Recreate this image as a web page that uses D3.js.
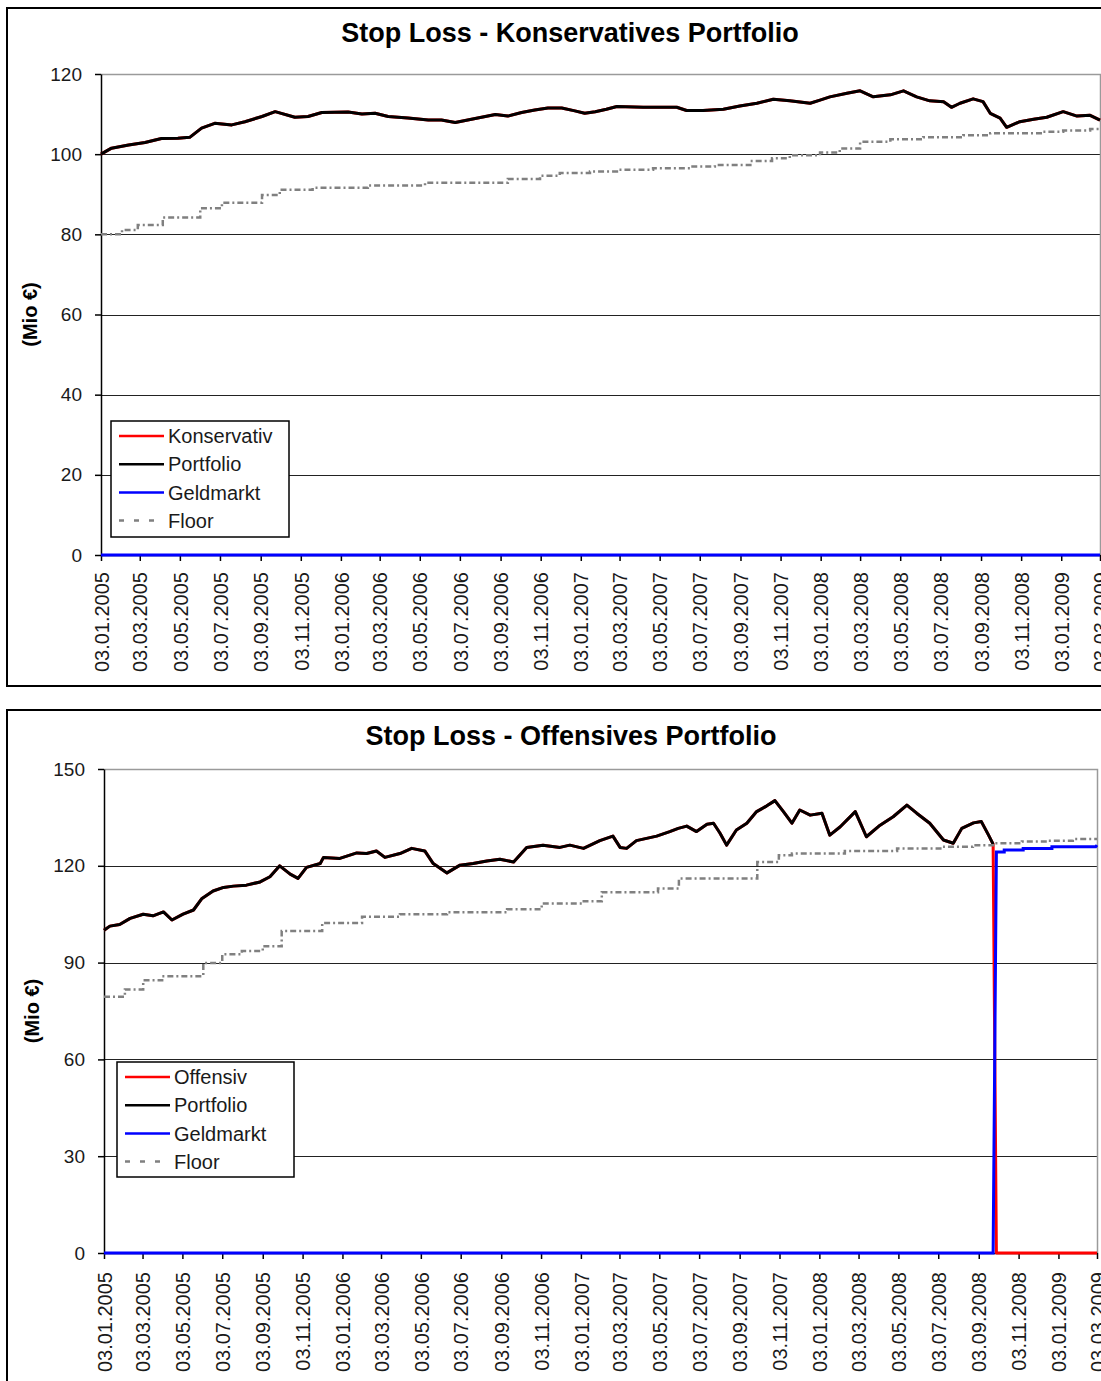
<!DOCTYPE html>
<html><head><meta charset="utf-8">
<script src="https://cdn.jsdelivr.net/npm/d3@7"></script>
<style>
body{margin:0;background:#fff}
svg{display:block}
text{font-family:"Liberation Sans",Arial,Helvetica,sans-serif}
</style>
</head><body>
<svg id="c" width="1101" height="1381"></svg>
<script>
// ---------------- DATA ----------------
const xTickLabels = ["03.01.2005","03.03.2005","03.05.2005","03.07.2005","03.09.2005","03.11.2005",
 "03.01.2006","03.03.2006","03.05.2006","03.07.2006","03.09.2006","03.11.2006",
 "03.01.2007","03.03.2007","03.05.2007","03.07.2007","03.09.2007","03.11.2007",
 "03.01.2008","03.03.2008","03.05.2008","03.07.2008","03.09.2008","03.11.2008",
 "03.01.2009","03.03.2009"];

const konsTitle = "Stop Loss - Konservatives Portfolio";
const offTitle = "Stop Loss - Offensives Portfolio";
const yLabel = "(Mio €)";
const konsYTicks = [0,20,40,60,80,100,120];
const offYTicks = [0,30,60,90,120,150];
const konsLegend = ["Konservativ","Portfolio","Geldmarkt","Floor"];
const offLegend = ["Offensiv","Portfolio","Geldmarkt","Floor"];

const konsPortfolio = [
 ["2005-01-03",100.0],["2005-01-19",101.5],["2005-02-14",102.3],["2005-03-11",102.9],["2005-04-05",103.9],
 ["2005-04-30",104.0],["2005-05-18",104.2],["2005-06-05",106.5],["2005-06-25",107.7],["2005-07-21",107.3],
 ["2005-08-10",108.1],["2005-09-05",109.4],["2005-09-25",110.6],["2005-10-25",109.2],["2005-11-14",109.4],
 ["2005-12-05",110.4],["2006-01-14",110.5],["2006-02-04",110.0],["2006-02-24",110.2],["2006-03-16",109.4],
 ["2006-04-15",109.0],["2006-05-16",108.5],["2006-06-05",108.5],["2006-06-26",107.9],["2006-07-15",108.5],
 ["2006-08-05",109.2],["2006-08-26",109.9],["2006-09-14",109.5],["2006-10-05",110.4],["2006-10-25",111.0],
 ["2006-11-14",111.5],["2006-12-05",111.5],["2006-12-25",110.8],["2007-01-09",110.2],["2007-01-25",110.6],
 ["2007-02-11",111.2],["2007-02-27",111.9],["2007-04-08",111.7],["2007-05-29",111.7],["2007-06-13",110.9],
 ["2007-07-08",110.9],["2007-08-08",111.2],["2007-09-02",112.0],["2007-09-28",112.7],["2007-10-23",113.7],
 ["2007-11-17",113.3],["2007-12-18",112.7],["2008-01-02",113.5],["2008-01-17",114.3],["2008-02-12",115.2],
 ["2008-03-03",115.8],["2008-03-23",114.3],["2008-04-18",114.8],["2008-05-08",115.8],["2008-05-28",114.3],
 ["2008-06-17",113.3],["2008-07-08",113.1],["2008-07-20",111.7],["2008-08-02",112.7],["2008-08-22",113.8],
 ["2008-09-06",113.1],["2008-09-17",110.2],["2008-10-02",109.0],["2008-10-12",106.7],["2008-11-01",108.1],
 ["2008-11-22",108.7],["2008-12-12",109.2],["2009-01-06",110.6],["2009-01-27",109.5],["2009-02-16",109.7],
 ["2009-03-03",108.5]
];
const konsKonservativ = konsPortfolio;
const konsGeldmarkt = [["2005-01-03",0],["2009-03-03",0]];
const konsFloor = [
 ["2005-01-03",80.0],["2005-02-04",81.1],["2005-02-28",82.3],["2005-04-07",84.2],["2005-06-03",86.5],
 ["2005-07-06",87.9],["2005-09-05",89.8],["2005-10-02",91.1],["2005-11-21",91.6],["2006-02-13",92.2],
 ["2006-05-11",92.9],["2006-09-14",93.8],["2006-11-02",94.6],["2006-12-02",95.3],["2007-01-17",95.7],
 ["2007-02-27",96.1],["2007-04-23",96.5],["2007-06-18",96.9],["2007-07-26",97.3],["2007-09-18",98.3],
 ["2007-10-21",99.0],["2007-11-17",99.7],["2008-01-02",100.4],["2008-02-01",101.4],["2008-03-03",103.1],
 ["2008-04-18",103.7],["2008-06-07",104.2],["2008-08-07",104.7],["2008-09-17",105.2],["2008-12-05",105.6],
 ["2009-01-06",105.9],["2009-02-16",106.3],["2009-03-03",106.3]
];

const offPortfolio = [
 ["2005-01-03",100.0],["2005-01-12",101.3],["2005-01-27",101.8],["2005-02-12",103.7],["2005-03-04",105.0],
 ["2005-03-19",104.5],["2005-04-04",105.7],["2005-04-17",103.2],["2005-05-04",105.0],["2005-05-20",106.3],
 ["2005-06-02",109.9],["2005-06-19",112.2],["2005-07-05",113.3],["2005-07-20",113.7],["2005-08-09",114.0],
 ["2005-08-30",115.0],["2005-09-14",116.6],["2005-09-29",120.0],["2005-10-15",117.4],["2005-10-27",116.1],
 ["2005-11-09",119.5],["2005-11-30",120.7],["2005-12-05",122.6],["2005-12-30",122.3],["2006-01-25",124.0],
 ["2006-02-09",123.8],["2006-02-24",124.6],["2006-03-09",122.6],["2006-04-01",123.8],["2006-04-19",125.4],
 ["2006-05-09",124.6],["2006-05-22",120.7],["2006-06-12",117.8],["2006-07-02",120.2],["2006-07-22",120.7],
 ["2006-08-12",121.5],["2006-09-01",122.0],["2006-09-22",121.2],["2006-10-12",125.7],["2006-11-06",126.4],
 ["2006-12-02",125.7],["2006-12-17",126.4],["2007-01-07",125.4],["2007-02-01",127.8],["2007-02-21",129.2],
 ["2007-03-04",125.7],["2007-03-14",125.4],["2007-03-29",127.8],["2007-04-29",129.2],["2007-05-19",130.6],
 ["2007-06-01",131.6],["2007-06-14",132.3],["2007-06-29",130.6],["2007-07-15",132.9],["2007-07-25",133.2],
 ["2007-08-04",130.1],["2007-08-14",126.4],["2007-08-29",131.1],["2007-09-14",133.2],["2007-09-29",136.8],
 ["2007-10-14",138.5],["2007-10-27",140.2],["2007-11-09",136.8],["2007-11-22",133.2],["2007-12-04",137.3],
 ["2007-12-20",135.7],["2008-01-07",136.3],["2008-01-19",129.5],["2008-02-04",132.1],["2008-02-27",136.8],
 ["2008-03-15",129.0],["2008-04-05",132.6],["2008-04-25",135.2],["2008-05-16",138.8],["2008-05-31",136.3],
 ["2008-06-20",133.2],["2008-07-11",128.0],["2008-07-26",127.0],["2008-08-08",131.6],["2008-08-26",133.3],
 ["2008-09-07",133.7],["2008-09-18",129.5],["2008-09-25",126.7]
];
const offOffensivAfterSwitch = [["2008-09-30",0],["2009-03-03",0]];
const offGeldmarkt = [
 ["2005-01-03",0],["2008-09-25",0],["2008-09-30",124.3],["2008-10-12",124.3],["2008-10-12",124.9],
 ["2008-11-10",124.9],["2008-11-10",125.4],["2008-12-24",125.4],["2008-12-24",125.9],
 ["2009-03-01",125.9],["2009-03-03",126.4]
];
const offFloor = [
 ["2005-01-03",79.4],["2005-02-04",81.7],["2005-03-04",84.5],["2005-04-02",85.8],["2005-06-04",89.9],
 ["2005-07-03",92.6],["2005-08-02",93.6],["2005-09-03",95.1],["2005-10-02",99.8],["2005-12-03",102.3],
 ["2006-02-02",104.2],["2006-04-01",105.0],["2006-06-12",105.6],["2006-09-12",106.5],["2006-11-04",108.3],
 ["2007-01-05",109.0],["2007-02-04",111.8],["2007-05-01",113.0],["2007-06-02",116.1],["2007-09-30",121.2],
 ["2007-11-02",123.3],["2007-11-22",123.8],["2008-02-11",124.6],["2008-05-01",125.4],["2008-07-10",125.9],
 ["2008-08-25",126.4],["2008-09-25",127.0],["2008-11-08",127.5],["2008-12-18",127.8],["2009-01-25",128.3],
 ["2009-03-03",128.3]
];

// ---------------- DRAW ----------------
const parse = d3.timeParse("%Y-%m-%d");
const parseTick = d3.timeParse("%d.%m.%Y");
const fmtTick = d3.timeFormat("%d.%m.%Y");
const svg = d3.select("#c");
const COLORS = {risky:"#ff0000", port:"#000000", money:"#0000ff", floor:"#808080"};

function drawChart(o) {
  const g = svg.append("g");
  g.append("rect").attr("x",o.frame[0]).attr("y",o.frame[1]).attr("width",o.frame[2]).attr("height",o.frame[3])
    .attr("fill","#fff").attr("stroke","#000").attr("stroke-width",2);

  const x = d3.scaleTime()
    .domain([parseTick(xTickLabels[0]), parseTick(xTickLabels[xTickLabels.length-1])])
    .range([o.left, o.right]);
  const yMax = d3.max(o.yTicks);
  const y = d3.scaleLinear().domain([0, yMax]).range([o.bottom, o.top]);

  // gridlines
  g.append("g").selectAll("line").data(o.yTicks.filter(v => v > 0 && v < yMax)).join("line")
    .attr("x1", o.left).attr("x2", o.right)
    .attr("y1", d => Math.round(y(d)) + 0.5).attr("y2", d => Math.round(y(d)) + 0.5)
    .attr("stroke", "#222").attr("stroke-width", 1);
  // plot area border (top, right) gray
  g.append("path")
    .attr("d", `M${o.left},${Math.round(y(yMax))+0.5}H${o.right+0.5}V${o.bottom}`)
    .attr("fill","none").attr("stroke","#9a9a9a").attr("stroke-width",1.5);

  // y axis
  const ya = g.append("g").attr("transform", `translate(${o.left},0)`)
    .call(d3.axisLeft(y).tickValues(o.yTicks).tickSize(6).tickSizeOuter(0).tickPadding(13));
  ya.select(".domain").attr("stroke","#000").attr("stroke-width",1.5);
  ya.selectAll(".tick line").attr("stroke","#000").attr("stroke-width",1.5);
  ya.selectAll("text").attr("font-size", 19).attr("fill","#1a1a1a")
    .style("font-family",'"Liberation Sans",Arial,sans-serif');

  // x axis
  const xa = g.append("g").attr("transform", `translate(0,${o.bottom})`)
    .call(d3.axisBottom(x).tickValues(xTickLabels.map(parseTick)).tickFormat(fmtTick).tickSize(6).tickSizeOuter(0));
  xa.select(".domain").attr("stroke","#000").attr("stroke-width",1.5);
  xa.selectAll(".tick line").attr("stroke","#000").attr("stroke-width",1.5);
  xa.selectAll("text").attr("font-size", 20).attr("fill","#1a1a1a")
    .style("font-family",'"Liberation Sans",Arial,sans-serif')
    .attr("transform","rotate(-90)").attr("text-anchor","end")
    .attr("x", -o.labelGap).attr("y", 0).attr("dy","0.36em");

  const toPts = arr => arr.map(d => [parse(d[0]), d[1]]);
  const lineLin = d3.line().x(d => x(d[0])).y(d => y(d[1]));
  const lineStep = d3.line().x(d => x(d[0])).y(d => y(d[1])).curve(d3.curveStepAfter);

  // series in Excel order: risky (red), portfolio (black), money market (blue), floor (gray)
  g.append("path").attr("d", lineLin(toPts(o.risky))).attr("fill","none")
    .attr("stroke", COLORS.risky).attr("stroke-width", 3).attr("stroke-linejoin","round");
  g.append("path").attr("d", lineLin(toPts(o.portfolio))).attr("fill","none")
    .attr("stroke", COLORS.port).attr("stroke-width", 3).attr("stroke-linejoin","round");
  g.append("path").attr("d", lineLin(toPts(o.money))).attr("fill","none")
    .attr("stroke", COLORS.money).attr("stroke-width", 3);
  g.append("path").attr("d", lineStep(toPts(o.floor))).attr("fill","none")
    .attr("stroke", COLORS.floor).attr("stroke-width", 2.5).attr("stroke-dasharray","6,3,2,3");

  // title
  g.append("text").attr("x", o.titleX).attr("y", o.titleY).attr("text-anchor","middle")
    .attr("font-size", 27).attr("font-weight","bold").attr("fill","#000").text(o.title);
  // y label
  g.append("text").attr("transform", `translate(${o.yLabX},${(o.top+o.bottom)/2}) rotate(-90)`)
    .attr("text-anchor","middle").attr("dy","0.35em")
    .attr("font-size", 20).attr("font-weight","bold").attr("fill","#000").text(yLabel);

  // legend
  const L = o.legend;
  const lg = g.append("g");
  lg.append("rect").attr("x", L.x).attr("y", L.y).attr("width", L.w).attr("height", L.h)
    .attr("fill","#fff").attr("stroke","#000").attr("stroke-width",1.5);
  const styles = [
    {c: COLORS.risky, dash: null, w: 2.5},
    {c: COLORS.port, dash: null, w: 2.5},
    {c: COLORS.money, dash: null, w: 2.5},
    {c: COLORS.floor, dash: "5,10", w: 2.5}
  ];
  o.legendLabels.forEach((lab, i) => {
    const cy = L.y + 15 + i * 28.2;
    lg.append("line").attr("x1", L.x + 8).attr("x2", L.x + 53).attr("y1", cy).attr("y2", cy)
      .attr("stroke", styles[i].c).attr("stroke-width", styles[i].w)
      .attr("stroke-dasharray", styles[i].dash);
    lg.append("text").attr("x", L.x + 57).attr("y", cy).attr("dy","0.36em")
      .attr("font-size", 20).attr("fill","#1a1a1a").text(lab);
  });
}

drawChart({
  frame: [7, 8, 1110, 678],
  left: 101, right: 1100, top: 74, bottom: 555,
  yTicks: konsYTicks, labelGap: 17,
  title: konsTitle, titleX: 570, titleY: 42, yLabX: 30,
  risky: konsKonservativ, portfolio: konsPortfolio, money: konsGeldmarkt, floor: konsFloor,
  legendLabels: konsLegend,
  legend: {x: 111, y: 421, w: 178, h: 116}
});

drawChart({
  frame: [7, 710, 1110, 700],
  left: 104, right: 1097, top: 769, bottom: 1253,
  yTicks: offYTicks, labelGap: 19,
  title: offTitle, titleX: 571, titleY: 745, yLabX: 32,
  risky: offPortfolio.concat(offOffensivAfterSwitch), portfolio: offPortfolio, money: offGeldmarkt, floor: offFloor,
  legendLabels: offLegend,
  legend: {x: 117, y: 1062, w: 177, h: 115}
});
</script>
</body></html>
